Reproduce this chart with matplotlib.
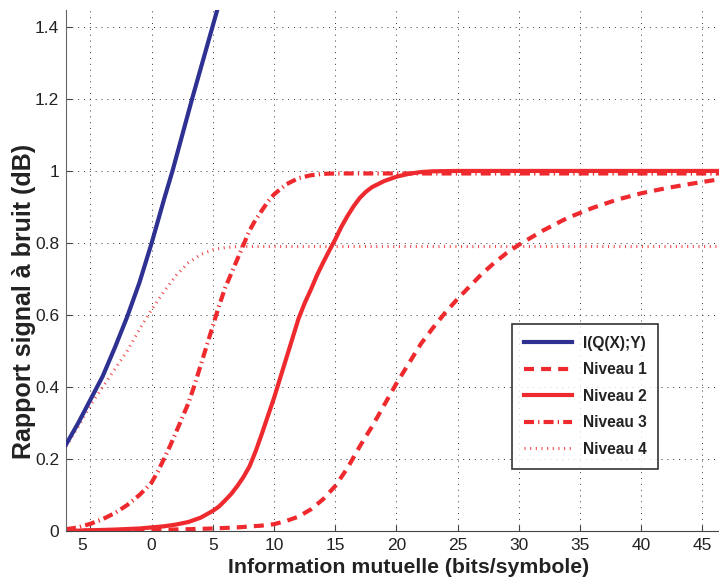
import matplotlib
matplotlib.use('Agg')
import matplotlib.pyplot as plt
import matplotlib.transforms as mtransforms

plt.rcParams['font.family'] = ['Liberation Sans', 'DejaVu Sans']

# values
x_iq = [-7, -6, -5, -4, -3, -2, -1, 0, 1, 1.7, 2.5, 3.3, 4.3, 5.33]
y_iq = [0.24, 0.30, 0.365, 0.43, 0.51, 0.595, 0.69, 0.80, 0.92, 1.0, 1.10, 1.20, 1.32, 1.444]

x_n1 = [-7, -3, 0, 3, 5, 7, 9, 10, 11, 12, 13, 14, 15, 16, 17, 18, 19, 20, 21, 22, 23,
        24, 25, 26, 27, 28, 29, 30, 32, 34, 36, 38, 40, 42, 44, 46.4]
y_n1 = [0.001, 0.002, 0.003, 0.005, 0.007, 0.01, 0.015, 0.019, 0.028, 0.04, 0.06, 0.088,
        0.125, 0.175, 0.235, 0.29, 0.35, 0.41, 0.465, 0.52, 0.565, 0.607, 0.645, 0.68,
        0.715, 0.745, 0.772, 0.795, 0.835, 0.87, 0.897, 0.92, 0.938, 0.952, 0.964, 0.977]

x_n2 = [-7, -5, -3, -1, 0, 1, 2, 3, 4, 5, 5.5, 6, 6.5, 7, 7.5, 8, 8.5, 9, 9.5, 10, 10.5,
        11, 11.5, 12, 12.5, 13, 13.5, 14, 14.5, 15, 15.5, 16, 16.5, 17, 17.5, 18, 19, 20,
        21, 22, 23, 25, 46.4]
y_n2 = [0.0, 0.002, 0.004, 0.007, 0.01, 0.013, 0.018, 0.025, 0.037, 0.056, 0.068, 0.085,
        0.103, 0.125, 0.15, 0.18, 0.222, 0.27, 0.32, 0.37, 0.425, 0.48, 0.535, 0.59, 0.633,
        0.67, 0.71, 0.745, 0.778, 0.81, 0.845, 0.875, 0.902, 0.925, 0.942, 0.955, 0.972,
        0.984, 0.992, 0.997, 0.999, 1.0, 1.0]

x_n3 = [-7, -6, -5, -4, -3, -2, -1, -0.5, 0, 0.5, 1, 1.5, 2, 2.5, 3, 3.5, 4, 4.5, 5, 5.5,
        6, 6.5, 7, 7.5, 8, 8.5, 9, 9.5, 10, 11, 12, 13, 14, 15, 46.4]
y_n3 = [0.005, 0.01, 0.02, 0.033, 0.05, 0.072, 0.10, 0.117, 0.135, 0.165, 0.20, 0.236,
        0.275, 0.315, 0.355, 0.405, 0.46, 0.515, 0.57, 0.625, 0.675, 0.715, 0.755, 0.795,
        0.835, 0.865, 0.89, 0.915, 0.935, 0.963, 0.98, 0.988, 0.992, 0.993, 0.993]

x_n4 = [-7, -6, -5, -4, -3, -2, -1, 0, 1, 2, 3, 4, 5, 6, 7, 46.4]
y_n4 = [0.235, 0.29, 0.35, 0.40, 0.45, 0.50, 0.56, 0.615, 0.665, 0.71, 0.745, 0.768,
        0.781, 0.787, 0.79, 0.79]

xticks = [-5, 0, 5, 10, 15, 20, 25, 30, 35, 40, 45]
xtick_labels = ['5', '0', '5', '10', '15', '20', '25', '30', '35', '40', '45']
yticks = [0, 0.2, 0.4, 0.6, 0.8, 1.0, 1.2, 1.4]
ytick_labels = ['0', '0.2', '0.4', '0.6', '0.8', '1', '1.2', '1.4']

blue = '#2e3192'
red = '#ee2a2e'

fig = plt.figure(figsize=(7.19, 5.77), dpi=100)
ax = fig.add_axes([66 / 719, 46 / 577, 653 / 719, 521 / 577])

ax.plot(x_iq, y_iq, color=blue, lw=3, label='I(Q(X);Y)', zorder=5)
ax.plot(x_n1, y_n1, color=red, lw=3, dashes=(2.4, 1.7), label='Niveau 1')
ax.plot(x_n2, y_n2, color=red, lw=3, label='Niveau 2')
ax.plot(x_n3, y_n3, color=red, lw=3, dashes=(2.4, 1.0, 0.3, 1.0), label='Niveau 3')
ax.plot(x_n4, y_n4, color=red, lw=2.2, alpha=0.85, dashes=(0.35, 1.5), label='Niveau 4')

ax.set_xlim(-7, -7 + 653 / 12.24)
ax.set_ylim(0, 1.447)
ax.set_xticks(xticks)
ax.set_xticklabels(xtick_labels)
ax.set_yticks(yticks)
ax.set_yticklabels(ytick_labels)

ax.tick_params(direction='in', length=4, width=0.8, color='#444444',
               labelsize=12.5, labelcolor='#222222', pad=5)

# first label sits a bit left of its tick in the original
lbl = ax.get_xticklabels()[0]
lbl.set_transform(lbl.get_transform() + mtransforms.ScaledTranslation(-8 / 100, 0, fig.dpi_scale_trans))

ax.grid(True, color='#333333', lw=0.7, linestyle=(0, (1, 5)))
ax.spines['top'].set_visible(False)
ax.spines['right'].set_visible(False)
ax.spines['left'].set_color('#666666')
ax.spines['bottom'].set_color('#444444')

ax.set_xlabel('Information mutuelle (bits/symbole)', fontsize=15.3, fontweight='bold',
              color='#222222')
ax.set_ylabel('Rapport signal à bruit (dB)', fontsize=18, fontweight='bold',
              color='#222222')
ax.xaxis.set_label_coords(0.524, -0.051)
ax.yaxis.set_label_coords(-0.046, 0.44)

leg = ax.legend(loc='upper left', bbox_to_anchor=(0.683, 0.397),
                prop={'weight': 'bold', 'size': 11.2}, frameon=True, fancybox=False,
                edgecolor='black', handlelength=3.1, handletextpad=0.7,
                labelspacing=0.74, borderpad=0.75, borderaxespad=0)
leg.get_frame().set_linewidth(1.2)
for t in leg.get_texts():
    t.set_color('#222222')

fig.savefig('out.png', dpi=100, facecolor='white')
